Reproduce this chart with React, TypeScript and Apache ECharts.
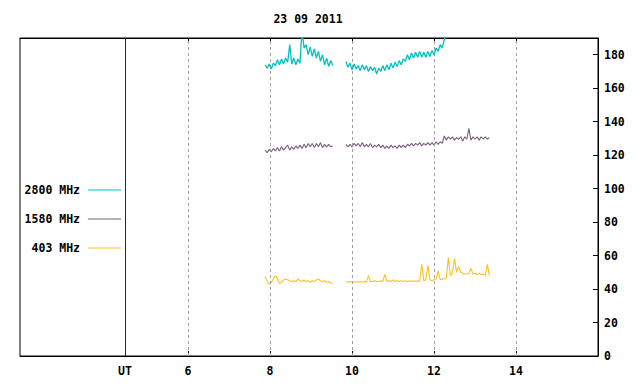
import React, { useEffect, useRef } from "react";
import * as echarts from "echarts";

const TITLE = "23 09 2011";
const SERIES_NAMES = ["2800 MHz", "1580 MHz", "403 MHz"];
const SERIES_COLORS = ["#00c0c0", "#7b5c7d", "#ffc020"];
const TICK_HOURS = [6, 8, 10, 12, 14];
const UT_HOUR = 4.46;
const UT_LABEL = "UT";
const X_MIN = 1.9;
const X_MAX = 16;
const Y_MIN = 0;
const Y_MAX = 190;
const Y_STEP = 20;

// sampling of the two observation segments (hours UT)
const SEG1_START = 7.88;
const SEG2_START = 9.85;
const SAMPLE_STEP = 0.05;

const f2800_seg1 = [174, 172, 174.5, 171.5, 175, 173.5, 177, 174, 177.5, 174.5, 178, 175.5, 186, 174.5, 178, 174, 177.5, 175, 195, 184, 186, 180, 184.5, 179, 183.5, 178, 182, 176, 180, 174, 178, 173, 176.5, 173.5];
const f2800_seg2 = [176, 172.5, 175, 171, 174.5, 171.5, 173.5, 170.5, 174, 171, 173.5, 170, 173, 170.5, 172.5, 168.5, 172, 170, 173.5, 170.5, 174, 171, 175, 172, 175.5, 173, 176.5, 174, 177.5, 176, 180, 177, 181, 178, 181.5, 178.5, 182, 178.5, 181.5, 178.5, 182, 179, 182.5, 180, 184, 182, 186, 184, 189, 192, 195];

const f1580_seg1 = [123, 121.5, 123.5, 122, 124, 122.5, 124.5, 122.5, 125, 123, 124.5, 126, 123, 125, 123.5, 125.5, 124, 126, 124, 126.5, 124.5, 127, 125, 127, 124.5, 127, 125, 127.5, 124.5, 126.5, 125, 126.5, 125, 125.5];
const f1580_seg2 = [126.5, 125, 126.5, 125, 127, 125.5, 127, 125, 127.5, 125, 126.5, 125, 127, 124.5, 126, 125, 126.5, 124.5, 126, 124, 125.5, 124, 126, 124.5, 125.5, 124, 126, 124.5, 126, 124.5, 126.5, 125.5, 127, 125.5, 127, 126, 127.5, 125.5, 127, 126, 127.5, 126, 127.5, 126, 128, 126.5, 128, 127, 131.5, 129, 131, 129.5, 131, 129, 130.5, 129.5, 131, 128.5, 131, 129.5, 136, 129, 131, 129.5, 131, 129, 131, 129.5, 131, 129.5, 130.5];

const f403_seg1 = [47.5, 44.5, 43, 44, 46, 48, 46.5, 43.5, 44, 45.5, 46, 45.5, 45, 44.5, 45, 44.5, 46, 45, 44.5, 45.5, 44.5, 45, 44, 45, 44.5, 45.5, 46, 45, 44.5, 45, 44, 44.5, 43.5, 43.5];
const f403_seg2 = [44, 44.5, 44, 44.5, 44, 44.5, 44, 44.5, 44, 44.5, 44, 48, 44.5, 44.5, 45, 44.5, 44.5, 45, 44.5, 48.8, 44.5, 45, 44.5, 45.5, 44.5, 45, 44.5, 45, 44.5, 45, 44.5, 45, 44.5, 45, 44.5, 45, 44.5, 54.8, 45, 45.5, 54.2, 45.5, 45, 45.5, 46, 50.8, 45.5, 46, 46, 46.5, 58.8, 48, 50, 58.2, 50, 53.5, 50, 49.5, 49, 49, 49.5, 52.4, 49, 49.5, 48.5, 49.5, 48.5, 49, 48, 54.8, 48];

const SEGMENTS = [
  [f2800_seg1, f2800_seg2],
  [f1580_seg1, f1580_seg2],
  [f403_seg1, f403_seg2],
];

function buildData(seg1: number[], seg2: number[]) {
  const out: any[] = [];
  seg1.forEach((v, i) => out.push([SEG1_START + i * SAMPLE_STEP, v]));
  out.push([(SEG1_START + seg1.length * SAMPLE_STEP + SEG2_START) / 2, "-"]);
  seg2.forEach((v, i) => out.push([SEG2_START + i * SAMPLE_STEP, v]));
  return out;
}

const FONT = "'DejaVu Sans Mono', monospace";

export default function App() {
  const ref = useRef<HTMLDivElement>(null);
  useEffect(() => {
    if (!ref.current) return;
    const chart = echarts.init(ref.current, null, { renderer: "svg" });
    const gridLeft = 20, gridRight = 42, gridTop = 38, gridBottom = 28;
    const legendY = [190, 219, 248];
    const graphic: any[] = [];
    SERIES_NAMES.forEach((name, i) => {
      graphic.push({
        type: "text",
        x: 80,
        y: legendY[i],
        style: {
          text: name,
          fill: "#000",
          font: `bold 11.5px ${FONT}`,
          textAlign: "right",
          textVerticalAlign: "middle",
        },
      });
      graphic.push({
        type: "line",
        shape: { x1: 88, y1: legendY[i], x2: 121, y2: legendY[i] },
        style: { stroke: SERIES_COLORS[i], lineWidth: 1 },
      });
    });
    graphic.push({
      type: "text",
      x: 308,
      y: 19,
      style: {
        text: TITLE,
        fill: "#000",
        font: `bold 11.5px ${FONT}`,
        textAlign: "center",
        textVerticalAlign: "middle",
      },
    });

    const series: any[] = SERIES_NAMES.map((name, i) => ({
      name,
      type: "line",
      data: buildData(SEGMENTS[i][0], SEGMENTS[i][1]),
      showSymbol: false,
      symbol: "none",
      connectNulls: false,
      clip: true,
      lineStyle: { color: SERIES_COLORS[i], width: i === 0 ? 1.3 : 1.1 },
      itemStyle: { color: SERIES_COLORS[i] },
      z: 5 - i,
    }));
    series.push({
      name: "grid",
      type: "line",
      data: [],
      silent: true,
      markLine: {
        silent: true,
        symbol: "none",
        label: { show: false },
        animation: false,
        data: [
          ...TICK_HOURS.map((h) => ({
            xAxis: h,
            lineStyle: { color: "#a0a0a0", type: [3, 3], width: 1 },
          })),
          { xAxis: UT_HOUR, lineStyle: { color: "#8b0000", type: "solid", width: 1 } },
        ],
      },
      z: 1,
    });

    chart.setOption({
      animation: false,
      backgroundColor: "#fff",
      grid: {
        left: gridLeft,
        right: gridRight,
        top: gridTop,
        bottom: gridBottom,
        show: true,
        borderColor: "#000",
        borderWidth: 1,
        backgroundColor: "transparent",
      },
      graphic,
      xAxis: [
        {
          type: "value",
          min: X_MIN,
          max: X_MAX,
          position: "bottom",
          axisLine: { show: true, lineStyle: { color: "#000", width: 1 } },
          axisTick: { show: true, inside: true, length: 5, customValues: TICK_HOURS, lineStyle: { color: "#000" } },
          axisLabel: {
            customValues: [UT_HOUR, ...TICK_HOURS],
            formatter: (v: number) => (Math.abs(v - UT_HOUR) < 1e-6 ? UT_LABEL : String(v)),
            fontFamily: FONT,
            fontWeight: "bold",
            fontSize: 11.5,
            color: "#000",
            margin: 9,
          },
          splitLine: { show: false },
        },
        {
          type: "value",
          min: X_MIN,
          max: X_MAX,
          position: "top",
          axisLine: { show: true, lineStyle: { color: "#000", width: 1 } },
          axisTick: { show: true, inside: true, length: 5, customValues: TICK_HOURS, lineStyle: { color: "#000" } },
          axisLabel: { show: false },
          splitLine: { show: false },
        },
      ],
      yAxis: {
        type: "value",
        min: Y_MIN,
        max: Y_MAX,
        interval: Y_STEP,
        position: "right",
        axisLine: { show: true, lineStyle: { color: "#000", width: 1 } },
        axisTick: { show: true, inside: true, length: 5, lineStyle: { color: "#000" } },
        axisLabel: {
          showMaxLabel: false,
          fontFamily: FONT,
          fontWeight: "bold",
          fontSize: 11.5,
          color: "#000",
          margin: 6,
        },
        splitLine: { show: false },
      },
      series,
    });
    return () => chart.dispose();
  }, []);
  return <div ref={ref} style={{ width: 640, height: 384, position: "absolute", left: 0, top: 0 }} />;
}
